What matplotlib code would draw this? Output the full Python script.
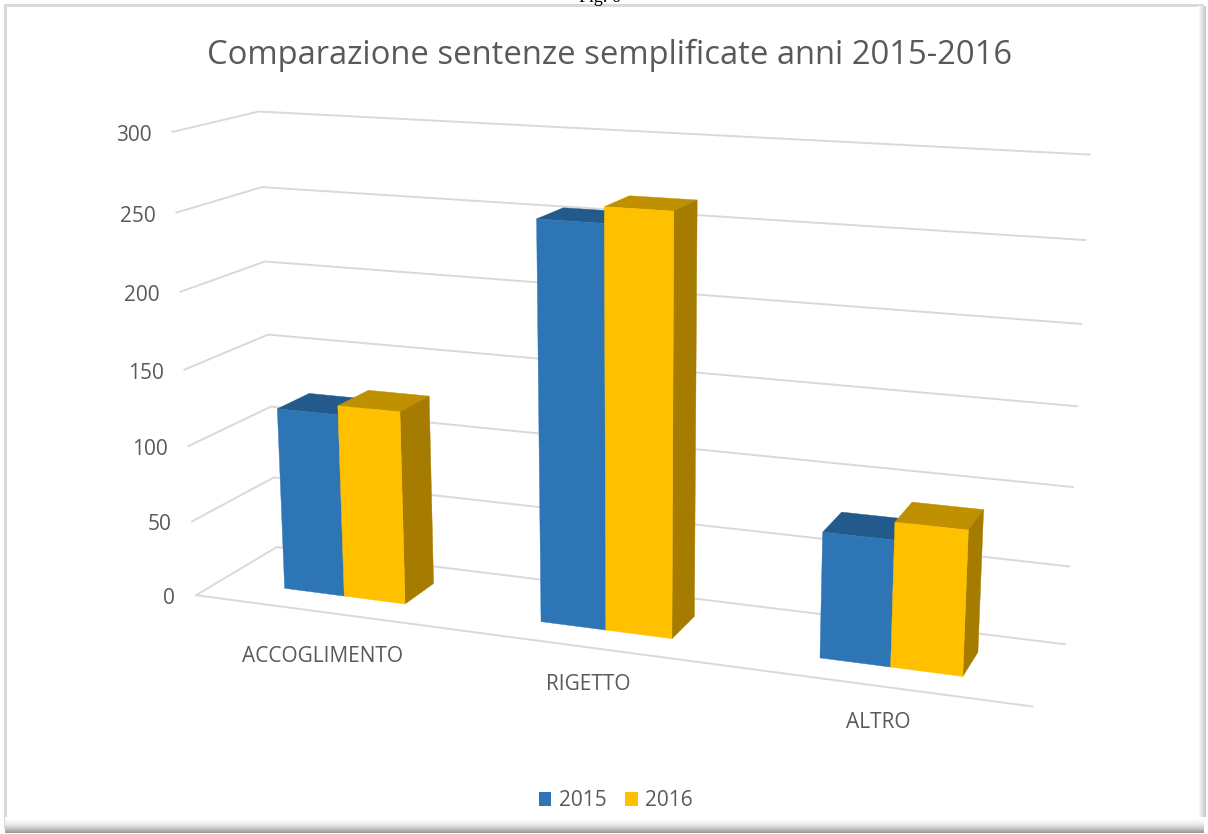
import numpy as np
import matplotlib
matplotlib.use("Agg")
import matplotlib.pyplot as plt
from matplotlib.patches import Patch, Polygon

# data
categories = ["ACCOGLIMENTO", "RIGETTO", "ALTRO"]
series_names = ["2015", "2016"]
values_2015 = [121, 255, 79]
values_2016 = [127, 265, 90]
ticks = [300, 250, 200, 150, 100, 50, 0]

# pixel positions of the gridlines in the picture, same order as ticks
wall_right = [(1090, 155), (1085, 240), (1081, 324), (1077, 406), (1073, 487), (1069, 566), (1065, 643)]
wall_back = [(258, 111), (262, 187), (265, 262), (268, 335), (271, 407), (274, 478), (277, 547)]
wall_front = [(172, 133), (177, 213), (181, 290), (185, 369), (188, 445), (192, 521), (196, 596)]
floor_front_right = (1032, 708)

BLUE = ("#2E75B6", "#225A8C", "#225A8C")
GOLD = ("#FFC000", "#BF9000", "#A67C00")
GRID = "#D9D9D9"
TEXT = "#595959"
FONT = "Open Sans"


def fit_camera():
    """Fit a perspective camera: (x, depth, value) -> pixel"""
    anchors = []
    for v, r, b, f in zip(ticks, wall_right, wall_back, wall_front):
        anchors.append((3, 1, v) + r)
        anchors.append((0, 1, v) + b)
        anchors.append((0, 0, v) + f)
    anchors.append((3, 0, 0) + floor_front_right)

    rows = []
    target = []
    for x, d, v, px, py in anchors:
        rows.append([x, d, v, 1, 0, 0, 0, 0, -px * x, -px * d, -px * v])
        target.append(px)
        rows.append([0, 0, 0, 0, x, d, v, 1, -py * x, -py * d, -py * v])
        target.append(py)
    p = np.linalg.lstsq(np.array(rows, float), np.array(target, float), rcond=None)[0]
    return np.append(p, 1).reshape(3, 4)


camera = fit_camera()


def proj(x, d, v):
    h = camera @ np.array([x, d, v, 1.0])
    return h[0] / h[2], h[1] / h[2]


def draw_bar(ax, x0, x1, value, colors):
    """Draw the visible faces of one bar"""
    front, top, side = colors
    d0, d1 = 0.30, 0.70
    ax.add_patch(Polygon([proj(x0, d0, value), proj(x0, d1, value),
                          proj(x1, d1, value), proj(x1, d0, value)],
                         fc=top, ec=top, lw=0.3, zorder=3))
    ax.add_patch(Polygon([proj(x1, d0, 0), proj(x1, d1, 0),
                          proj(x1, d1, value), proj(x1, d0, value)],
                         fc=side, ec=side, lw=0.3, zorder=3))
    ax.add_patch(Polygon([proj(x0, d0, 0), proj(x1, d0, 0),
                          proj(x1, d0, value), proj(x0, d0, value)],
                         fc=front, ec=front, lw=0.3, zorder=3))


fig = plt.figure(figsize=(12.08, 8.34), dpi=100)
ax = fig.add_axes([0, 0, 1, 1])
ax.set_xlim(0, 1208)
ax.set_ylim(834, 0)
ax.axis("off")

# frame of the pasted chart with its shadow
ax.fill_between([4, 7], 4, 829, color="#DADADA", lw=0, zorder=1)
ax.fill_between([4, 1204], 4, 6.5, color="#DADADA", lw=0, zorder=1)
ramp = 1 - 0.42 * np.linspace(0, 1, 32) ** 2
ax.imshow(ramp.reshape(-1, 1), extent=(5, 1204, 833, 817), cmap="gray", vmin=0, vmax=1,
          aspect="auto", zorder=1)
ax.imshow(np.linspace(1, 0.78, 16).reshape(1, -1), extent=(1198, 1206, 817, 6), cmap="gray",
          vmin=0, vmax=1, aspect="auto", zorder=1)
ax.set_xlim(0, 1208)
ax.set_ylim(834, 0)

# caption of the page, cut off by the top edge
ax.text(600, 2, "Fig. 6", family="Liberation Serif", fontsize=13, color="black",
        ha="center", va="baseline", zorder=2)

# gridlines
for v in ticks:
    pts = [proj(0, 0, v), proj(0, 1, v), proj(3, 1, v)]
    ax.plot([q[0] for q in pts], [q[1] for q in pts], color=GRID, lw=1.4, zorder=2,
            solid_joinstyle="miter")
    ax.text(pts[0][0] - 21, pts[0][1] + 3.5, str(v), family=FONT, fontsize=15, color=TEXT,
            ha="right", va="center")
a = proj(0, 0, 0)
b = proj(3, 0, 0)
ax.plot([a[0], b[0]], [a[1], b[1]], color=GRID, lw=1.4, zorder=2)

# bars
for i in range(len(categories)):
    draw_bar(ax, i + 0.26, i + 0.50, values_2015[i], BLUE)
    draw_bar(ax, i + 0.50, i + 0.74, values_2016[i], GOLD)

# category labels
for name, x, y in zip(categories, [322, 588, 878], [656, 685, 723]):
    ax.text(x, y, name, family=FONT, fontsize=15, color=TEXT, ha="center", va="center")

ax.text(610, 55, "Comparazione sentenze semplificate anni 2015-2016", family=FONT,
        fontsize=23.6, color=TEXT, ha="center", va="center")

handles = [Patch(fc=BLUE[0]), Patch(fc=GOLD[0])]
ax.legend(handles, series_names, loc="center", bbox_to_anchor=(615.5 / 1208, 1 - 801 / 834),
          ncol=2, frameon=False, prop={"family": FONT, "size": 15}, labelcolor=TEXT,
          handlelength=0.62, handleheight=0.62, handletextpad=0.35, columnspacing=0.87)

fig.savefig("out.png", dpi=100)
